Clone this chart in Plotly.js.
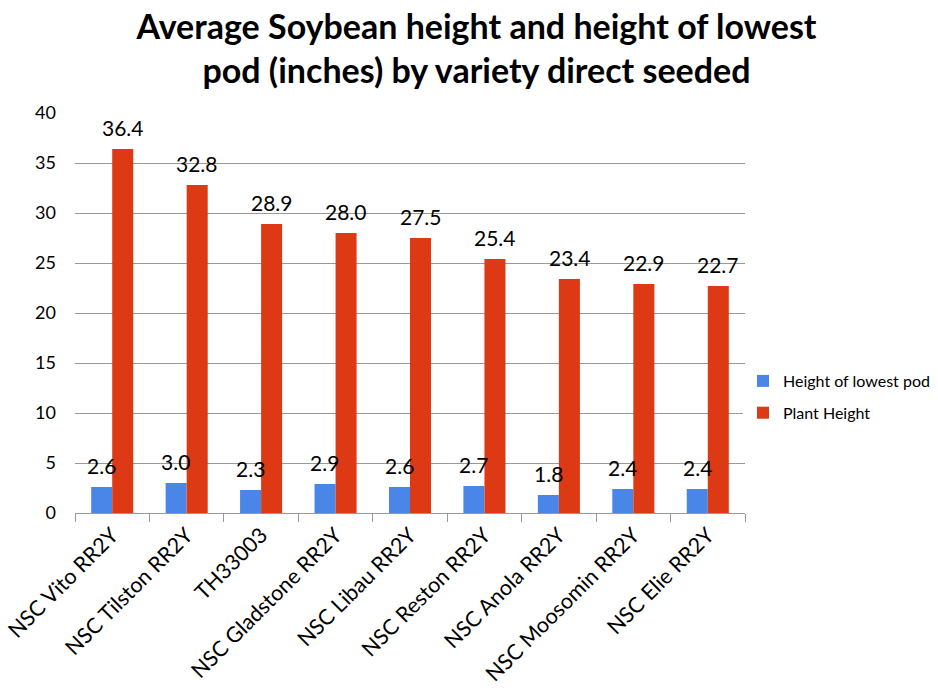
<!DOCTYPE html>
<html>
<head>
<meta charset="utf-8">
<script src="https://cdn.plot.ly/plotly-3.0.1.min.js"></script>
<style>html,body{margin:0;padding:0;background:#fff;}#chart{width:938px;height:688px;}</style>
</head>
<body>
<div id="chart"></div>
<script>
const varieties = ["NSC Vito RR2Y","NSC Tilston RR2Y","TH33003","NSC Gladstone RR2Y","NSC Libau RR2Y","NSC Reston RR2Y","NSC Anola RR2Y","NSC Moosomin RR2Y","NSC Elie RR2Y"];
const lowestPod = [2.6,3.0,2.3,2.9,2.6,2.7,1.8,2.4,2.4];
const plantHeight = [36.4,32.8,28.9,28.0,27.5,25.4,23.4,22.9,22.7];
const seriesNames = ["Height of lowest pod","Plant Height"];

const FONT = "Lato, 'Open Sans', sans-serif";
const traces = [
  {type:'bar', name:seriesNames[0], legendgroup:'a', x:varieties, y:lowestPod, marker:{color:'#4a86e8'}, hoverinfo:'none'},
  {type:'bar', name:seriesNames[1], legendgroup:'b', x:varieties, y:plantHeight, marker:{color:'#dd3914'}, hoverinfo:'none'}
];
const annotations = [];
[lowestPod, plantHeight].forEach((vals, si) => {
  vals.forEach((v, i) => {
    annotations.push({xref:'x', yref:'y', x:varieties[i], y:v, text:v.toFixed(1), showarrow:false,
      xanchor:'center', yanchor:'bottom', xshift: si === 0 ? -10.7 : 10.7, yshift:7,
      font:{size:21, family:FONT, color:'#000'}});
  });
});
const layout = {
  width:938, height:688,
  margin:{l:75, r:193, t:113, b:175, autoexpand:false},
  paper_bgcolor:'#fff', plot_bgcolor:'#fff',
  font:{family:FONT, color:'#000'},
  title:{text:'<b>Average Soybean height and height of lowest<br>pod (inches) by variety direct seeded</b>',
    font:{size:34,family:FONT,color:'#000'}, x:0.508, xanchor:'center', xref:'container', y:0.943, yanchor:'middle'},
  barmode:'group', bargap:0.435, bargroupgap:0,
  xaxis:{type:'category', tickson:'boundaries', ticks:'outside', ticklen:8, tickcolor:'#999',
    showline:true, linecolor:'#999', linewidth:1, tickangle:-45,
    tickfont:{size:21.5,family:FONT,color:'#000'}, showgrid:false, automargin:false},
  yaxis:{range:[0,40], dtick:5, showgrid:true, gridcolor:'#999', gridwidth:1,
    zeroline:false, showline:false, ticks:'', ticklabelstandoff:18, automargin:false,
    tickfont:{size:18,family:FONT,color:'#000'}},
  legend:{x:0.997, xanchor:'left', y:0.29, yanchor:'middle', font:{size:16,family:FONT,color:'#000'},
    tracegroupgap:8, itemwidth:30},
  annotations: annotations,
  showlegend:true
};
Plotly.newPlot('chart', traces, layout, {staticPlot:true, displayModeBar:false});
</script>
</body>
</html>
